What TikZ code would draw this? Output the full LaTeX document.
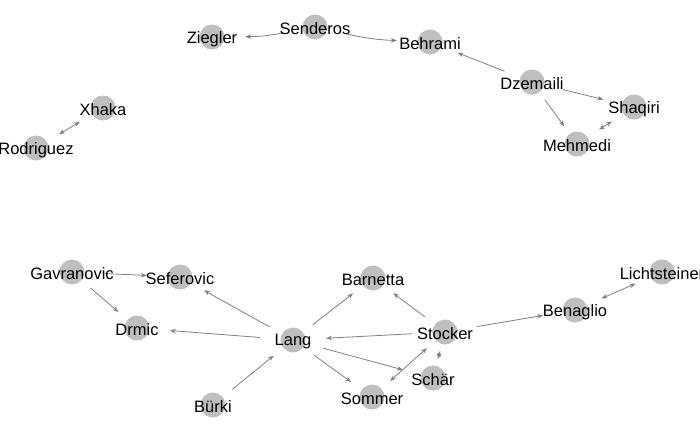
\documentclass[tikz,border=0pt]{standalone}
\usepackage{fontspec}
\setmainfont{Liberation Sans}
\usetikzlibrary{arrows.meta, shapes.geometric}
\pgfdeclarelayer{bg}
\pgfsetlayers{bg,main}

\begin{document}
\begin{tikzpicture}[
		x=1pt, y=-1pt,
		player/.style = {ellipse, minimum width=66pt, minimum height=38pt, inner sep=0pt,
			path picture={\fill[lightgray] (path picture bounding box.center) circle (12.5pt);},
			label={[font=\fontsize{16.5}{19}\selectfont, inner sep=0pt, yshift=-2pt]center:#1}},
		link/.style = {draw=gray, line width=0.8pt, -{Stealth[length=6pt, width=4.5pt]}},
		both/.style = {link, {Stealth[length=6pt, width=4.5pt]}-{Stealth[length=6pt, width=4.5pt]}}
	]
	\useasboundingbox (0,0) rectangle (700,432);
	% Top group.
	\node[player=Senderos] (sen) at (315,27) {};
	\node[player=Ziegler] (zie) at (212,37) {};
	\node[player=Behrami] (beh) at (430,42) {};
	\node[player=Dzemaili] (dze) at (532,82) {};
	\node[player=Shaqiri] (sha) at (634,107) {};
	\node[player=Mehmedi] (meh) at (577,144) {};
	% Pair.
	\node[player=Xhaka] (xha) at (103,108) {};
	\node[player=Rodriguez] (rod) at (36,148) {};
	% Bottom group.
	\node[player=Gavranovic] (gav) at (72,272) {};
	\node[player=Seferovic] (sef) at (180,277) {};
	\node[player=Drmic] (drm) at (137,328) {};
	\node[player=Lang] (lan) at (293,340) {};
	\node[player=Barnetta] (bar) at (373,278) {};
	\node[player=Stocker] (sto) at (445,332) {};
	\node[player=Schär] (sch) at (433,378) {};
	\node[player=Sommer] (som) at (372,397) {};
	\node[player=Bürki] (bur) at (213,405) {};
	\node[player=Benaglio] (ben) at (575,310) {};
	\node[player=Lichtsteiner] (lic) at (662,272) {};

	\begin{pgfonlayer}{bg}
	\draw[link] (sen) to[bend left=5] (zie);
	\draw[link] (sen) to[bend right=5] (beh);
	\draw[link] (dze) to (beh);
	\draw[link] (dze) to (sha);
	\draw[link] (dze) to (meh);
	\draw[both] (sha) to (meh);
	\draw[both] (xha) to (rod);
	\draw[link] (gav) to (sef);
	\draw[link] (gav) to (drm);
	\draw[link] (lan) to (sef);
	\draw[link] (lan) to (drm);
	\draw[link] (bur) to (lan);
	\draw[link] (lan) to (bar);
	\draw[link] (lan) to (som);
	\draw[link] (lan) to (sch);
	\draw[link] (sto) to (lan);
	\draw[link] (sto) to (bar);
	\draw[both] (sto) to (som);
	\draw[both] (sto) to (sch);
	\draw[link] (sto) to (ben);
	\draw[both] (ben) to (lic);
	\end{pgfonlayer}
\end{tikzpicture}
\end{document}
